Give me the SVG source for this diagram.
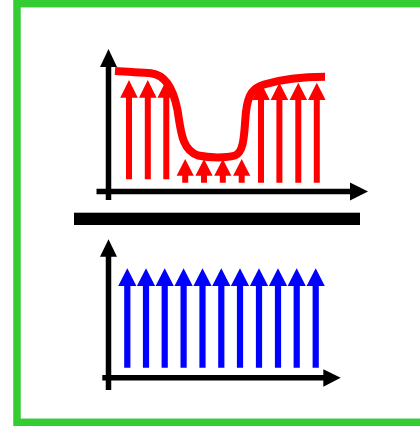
<svg xmlns="http://www.w3.org/2000/svg" width="420" height="428" viewBox="0 0 420 428">
  <style>
    .frame { fill: #ffffff; stroke: #33cc33; stroke-width: 7.5; }
    .axis { stroke: #000000; stroke-width: 5.5; fill: none; }
    .head { fill: #000000; }
    .red { fill: #ff0000; }
    .blue { fill: #0000ff; }
    .curve { fill: none; stroke: #ff0000; stroke-width: 8; stroke-linejoin: round; }
  </style>
  <rect width="420" height="428" fill="#ffffff"/>
  <rect class="frame" x="17" y="3.7" width="440" height="418.6"/>

  <!-- upper plot: varying field -->
  <g id="upper-plot">
    <g id="upper-axes">
      <line class="axis" x1="108.5" y1="200" x2="108.5" y2="64"/>
      <polygon class="head" points="100,67 108.5,49 117,67"/>
      <line class="axis" x1="96.5" y1="191.5" x2="352" y2="191.5"/>
      <polygon class="head" points="350,182.5 368,191.5 350,200.5"/>
    </g>
    <g id="upper-vectors">
      <path class="red" d="M126,179.3V97.7H120.2L129,80L137.8,97.7H132V179.3Z"/>
      <path class="red" d="M144.8,179.3V97.7H139L147.8,80L156.6,97.7H150.8V179.3Z"/>
      <path class="red" d="M163.3,179.3V97.7H157.5L166.3,80L175.1,97.7H169.3V179.3Z"/>
      <path class="red" d="M182.2,182.7V175.7H176.6L185.2,159L193.8,175.7H188.2V182.7Z"/>
      <path class="red" d="M201,182.7V175.7H195.4L204,159L212.6,175.7H207V182.7Z"/>
      <path class="red" d="M219.8,182.7V175.7H214.2L222.8,159L231.4,175.7H225.8V182.7Z"/>
      <path class="red" d="M238.7,182.7V175.7H233.1L241.7,159L250.3,175.7H244.7V182.7Z"/>
      <path class="red" d="M258,182.7V100H252.2L261,82.7L269.8,100H264V182.7Z"/>
      <path class="red" d="M276.4,182.7V100H270.6L279.4,82.7L288.2,100H282.4V182.7Z"/>
      <path class="red" d="M295.3,182.7V100H289.5L298.3,82.7L307.1,100H301.3V182.7Z"/>
      <path class="red" d="M313.8,182.7V100H308L316.8,82.7L325.6,100H319.8V182.7Z"/>
    </g>
    <path id="upper-profile" class="curve" d="M115,71 C130,72 142,72.5 151,73.2 C167,75 174,92 177.5,110 C181,132 182,150 198,155.5 C210,158 226,158 235,155.5 C245,152 244,130 246,112 C248,94 253,88 264,84.5 C282,79 302,76.7 325,76.7"/>
  </g>

  <!-- separator bar -->
  <rect id="separator" x="74" y="212.7" width="286" height="12.3" fill="#000000"/>

  <!-- lower plot: uniform field -->
  <g id="lower-plot">
    <g id="lower-axes">
      <line class="axis" x1="108.5" y1="390" x2="108.5" y2="254"/>
      <polygon class="head" points="100,256.7 108.5,239.3 117,256.7"/>
      <line class="axis" x1="102.3" y1="377.7" x2="325" y2="377.7"/>
      <polygon class="head" points="323.3,369.3 340.7,377.7 323.3,386.7"/>
    </g>
    <g id="lower-vectors">
      <path class="blue" d="M124.2,367.7V286H118.2L127.3,268.3L136.4,286H130.4V367.7Z"/>
      <path class="blue" d="M142.9,367.7V286H136.9L146,268.3L155.1,286H149.1V367.7Z"/>
      <path class="blue" d="M161.6,367.7V286H155.6L164.7,268.3L173.8,286H167.8V367.7Z"/>
      <path class="blue" d="M180.5,367.7V286H174.5L183.6,268.3L192.7,286H186.7V367.7Z"/>
      <path class="blue" d="M199.4,367.7V286H193.4L202.5,268.3L211.6,286H205.6V367.7Z"/>
      <path class="blue" d="M218.2,367.7V286H212.2L221.3,268.3L230.4,286H224.4V367.7Z"/>
      <path class="blue" d="M236.9,367.7V286H230.9L240,268.3L249.1,286H243.1V367.7Z"/>
      <path class="blue" d="M255.9,367.7V286H249.9L259,268.3L268.1,286H262.1V367.7Z"/>
      <path class="blue" d="M274.9,367.7V286H268.9L278,268.3L287.1,286H281.1V367.7Z"/>
      <path class="blue" d="M293.6,367.7V286H287.6L296.7,268.3L305.8,286H299.8V367.7Z"/>
      <path class="blue" d="M312.6,367.7V286H306.6L315.7,268.3L324.8,286H318.8V367.7Z"/>
    </g>
  </g>
</svg>
